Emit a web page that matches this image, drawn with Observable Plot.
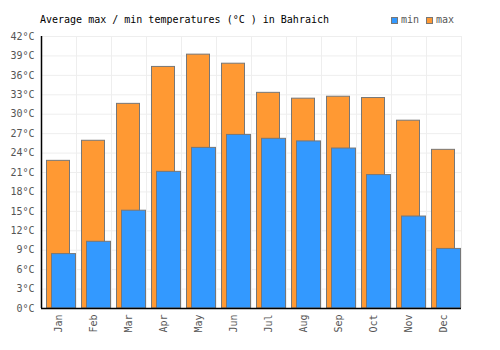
<!DOCTYPE html>
<html><head><meta charset="utf-8">
<script src="https://cdn.jsdelivr.net/npm/d3@7"></script>
<script src="https://cdn.jsdelivr.net/npm/@observablehq/plot@0.6"></script>
<style>
body{margin:0;background:#fff;}
#wrap{position:relative;width:500px;height:350px;font-family:"DejaVu Sans Mono",monospace;}
#title{position:absolute;left:40px;top:14px;font-size:10px;line-height:12px;color:#000;white-space:pre;}
#legend{position:absolute;left:391px;top:14px;font-size:10px;line-height:12px;color:#555;display:flex;align-items:center;white-space:pre;}
.sw{display:inline-block;width:5px;height:5px;border:1px solid #777;margin-right:3px;}
</style></head>
<body><div id="wrap"><div id="title">Average max / min temperatures (°C ) in Bahraich</div>
<div id="legend"><span class="sw" style="background:#3399ff"></span>min<span style="display:inline-block;width:7px"></span><span class="sw" style="background:#ff9933"></span>max</div>
</div>
<script>
const months = ["Jan","Feb","Mar","Apr","May","Jun","Jul","Aug","Sep","Oct","Nov","Dec"];
const maxTemps = [22.8,25.9,31.6,37.3,39.2,37.8,33.3,32.4,32.7,32.5,29.0,24.5];
const minTemps = [8.4,10.3,15.1,21.1,24.8,26.8,26.2,25.8,24.7,20.6,14.2,9.2];
const yTicks = d3.range(0,43,3);

const data = months.map((m,i)=>({i, m, max:maxTemps[i], min:minTemps[i]}));
const edges = d3.range(0, months.length+1);

const chart = Plot.plot({
  width:500, height:350,
  marginLeft:41, marginRight:39, marginTop:36, marginBottom:42,
  style:{fontFamily:"DejaVu Sans Mono, monospace", fontSize:"10px", color:"#555", background:"transparent"},
  x:{domain:[0,months.length], label:null},
  y:{domain:[0,42], label:null},
  marks:[
    Plot.ruleY(yTicks,{stroke:"#eeeeee", strokeWidth:1}),
    Plot.ruleX(edges,{stroke:"#eeeeee", strokeWidth:1}),
    Plot.rectY(data,{x1:d=>d.i, x2:d=>d.i+1, y:"max", fill:"#ff9933", stroke:"#777", strokeWidth:1, insetLeft:5.5, insetRight:6.5}),
    Plot.rectY(data,{x1:d=>d.i, x2:d=>d.i+1, y:"min", fill:"#3399ff", stroke:"#777", strokeWidth:1, insetLeft:10.5, insetRight:0.5}),
    Plot.axisY({ticks:yTicks, tickFormat:d=>d+"°C", tickSize:0, tickPadding:7, fill:"#555", label:null}),
    Plot.axisX({ticks:months.map((m,i)=>i+0.5), tickFormat:d=>months[Math.floor(d)], tickRotate:-90, tickSize:0, tickPadding:6, fill:"#555", label:null}),
    Plot.ruleY([0],{stroke:"#000", strokeWidth:1.5}),
    Plot.ruleX([0],{stroke:"#000", strokeWidth:1.5})
  ]
});
chart.style.position="absolute"; chart.style.left="0"; chart.style.top="0";
document.getElementById("wrap").appendChild(chart);
</script></body></html>
